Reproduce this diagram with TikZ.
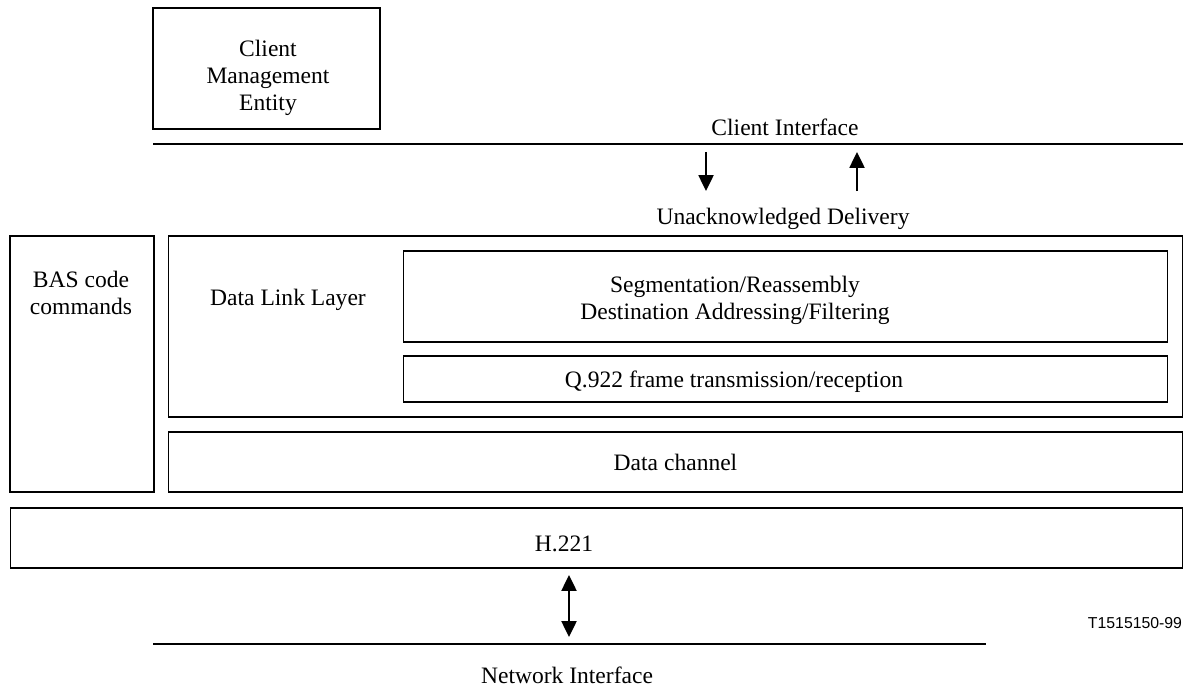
\documentclass[tikz,border=0pt]{standalone}
\usepackage{fontspec}
\setmainfont{Liberation Serif}
\newfontfamily\tagfont{Liberation Sans}
\usetikzlibrary{positioning, arrows.meta}

\begin{document}
\begin{tikzpicture}[x=0.02cm, y=-0.02cm,
		box/.style={draw, line width=.6pt, inner sep=0pt},
		lbl/.style={font=\fontsize{13.4}{15.5}\selectfont, align=center, inner sep=0pt},
		bar/.style={line width=1.4pt},
		flow/.style={line width=1.2pt, -{Triangle[length=9pt, width=8.5pt]}},
		flows/.style={line width=1.2pt, {Triangle[length=9pt, width=8.5pt]}-{Triangle[length=9pt, width=8.5pt]}}]
			\useasboundingbox	(0, 0) rectangle (1187, 686);

			\node	(cme)	at	(266.5, 68.5)	[box, minimum width=4.54cm, minimum height=2.42cm]		{};
			\node	(bas)	at	(82, 364)		[box, minimum width=2.88cm, minimum height=5.12cm]		{};
			\node	(dll)	at	(675.5, 326.5)	[box, minimum width=20.3cm, minimum height=3.62cm]		{};
			\node	(seg)	at	(785.5, 296.5)	[box, minimum width=15.3cm, minimum height=1.82cm]		{};
			\node	(q922)	at	(785.5, 379)	[box, minimum width=15.3cm, minimum height=.92cm]		{};
			\node	(chan)	at	(675.5, 462)	[box, lbl, minimum width=20.3cm, minimum height=1.2cm]	{Data channel};
			\node	(h221)	at	(596.5, 538)	[box, minimum width=23.46cm, minimum height=1.2cm]		{};

			\node	(cmeL)	at	(268, 78)		[lbl]	{Client\\Management\\Entity};
			\node	(basL)	at	(81, 293)		[lbl]	{BAS code\\commands};
			\node	(dllL)	at	(288, 300)		[lbl]	{Data Link Layer};
			\node	(segL)	at	(735, 300)		[lbl]	{Segmentation/Reassembly\\Destination Addressing/Filtering};
			\node	(q922L)	at	(734, 382)		[lbl]	{Q.922 frame transmission/reception};
			\node	(h221L)	at	(564, 544)		[lbl]	{H.221};

			% interfaces
			\coordinate	(ciW)	at	(153, 144);
			\coordinate	(ciE)	at	(1183, 144);
			\coordinate	(niW)	at	(153, 644);
			\coordinate	(niE)	at	(986, 644);
			\draw	[bar]	(ciW) -- (ciE);
			\draw	[bar]	(niW) -- (niE);
			\node	(ci)	at	(785, 127)		[lbl]	{Client Interface};
			\node	(ni)	at	(567, 675)		[lbl]	{Network Interface};
			\node	(ud)	at	(783, 219)		[lbl]	{Unacknowledged Delivery};

			\coordinate	(dnA)	at	(706, 152);
			\coordinate	(dnB)	at	(706, 191);
			\coordinate	(upA)	at	(857, 191);
			\coordinate	(upB)	at	(857, 152);
			\draw	[flow]	(dnA) -- (dnB);
			\draw	[flow]	(upA) -- (upB);

			\coordinate	(hnA)	at	(569, 575);
			\coordinate	(hnB)	at	(569, 637);
			\draw	[flows]	(hnA) -- (hnB);

			\node	(tag)	at	(1135, 623)		[font=\tagfont\fontsize{9}{11}\selectfont, inner sep=0pt]	{T1515150-99};
		\end{tikzpicture}
\end{document}
